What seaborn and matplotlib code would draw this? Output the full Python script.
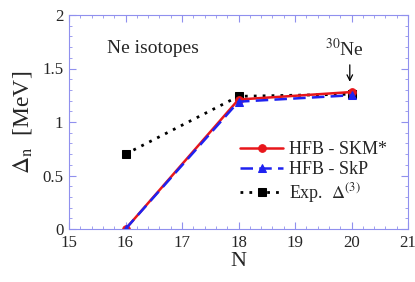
import matplotlib
matplotlib.use("Agg")
import matplotlib.pyplot as plt
import seaborn as sns
from matplotlib.ticker import MultipleLocator

# data
N = [16, 18, 20]
skm = [0.0, 1.21, 1.28]
skp = [0.0, 1.19, 1.25]
exp3 = [0.70, 1.24, 1.26]

sns.set_style("ticks")
plt.rcParams['font.family'] = ['Liberation Serif', 'DejaVu Serif']
plt.rcParams['mathtext.fontset'] = 'stix'

fig = plt.figure(figsize=(4.15, 2.82), dpi=100)
ax = fig.add_axes([69 / 415, 1 - 229 / 282, 339 / 415, 214 / 282])

sns.lineplot(x=N, y=exp3, ax=ax, color='black', linestyle=(0, (1, 2.2)), lw=2,
             marker='s', markersize=5.5, markeredgecolor='black', label=r'Exp.  $\Delta^{(3)}$')
sns.lineplot(x=N, y=skm, ax=ax, color='#e8161b', lw=1.8, marker='o', markersize=5.5,
             markeredgecolor='#e8161b', label='HFB - SKM*')
sns.lineplot(x=N, y=skp, ax=ax, color='#1f22f0', lw=1.8, linestyle=(0, (5, 2.5)),
             marker='^', markersize=5.5, markeredgecolor='#1f22f0', label='HFB - SkP')

ax.set_xlim(15, 21)
ax.set_ylim(0, 2)
ax.xaxis.set_minor_locator(MultipleLocator(0.2))
ax.yaxis.set_minor_locator(MultipleLocator(0.1))
ax.set_xticks([15, 16, 17, 18, 19, 20, 21])
ax.set_xticklabels(['15', '16', '17', '18', '19', '20', '21'])
ax.set_yticks([0, 0.5, 1, 1.5, 2])
ax.set_yticklabels(['0', '0.5', '1', '1.5', '2'])

frame = '#9090ee'
for s in ax.spines.values():
    s.set_color(frame)
    s.set_linewidth(0.8)
ax.tick_params(which='both', direction='in', top=True, right=True, color=frame,
               labelsize=12.2, pad=4)
ax.tick_params(which='major', length=5)
ax.tick_params(which='minor', length=2.5)

ax.set_xlabel('N', fontsize=16, labelpad=1)
ax.set_ylabel(r'$\Delta_{\rm n}$  [MeV]', fontsize=17, labelpad=6)

ax.text(15.67, 1.69, 'Ne isotopes', fontsize=14, va='center')
ax.text(19.88, 1.68, r'$^{30}$Ne', fontsize=14, ha='center', va='center')
ax.annotate('', xy=(19.97, 1.35), xytext=(19.97, 1.56),
            arrowprops=dict(arrowstyle='->', color='black', lw=0.9))

h, l = ax.get_legend_handles_labels()
ax.legend([h[1], h[2], h[0]], [l[1], l[2], l[0]], loc='lower right',
          bbox_to_anchor=(0.975, 0.055), frameon=False, fontsize=13,
          handlelength=2.4, handletextpad=0.3, labelspacing=0.15, borderaxespad=0.3)

fig.savefig('out.png', dpi=100)
